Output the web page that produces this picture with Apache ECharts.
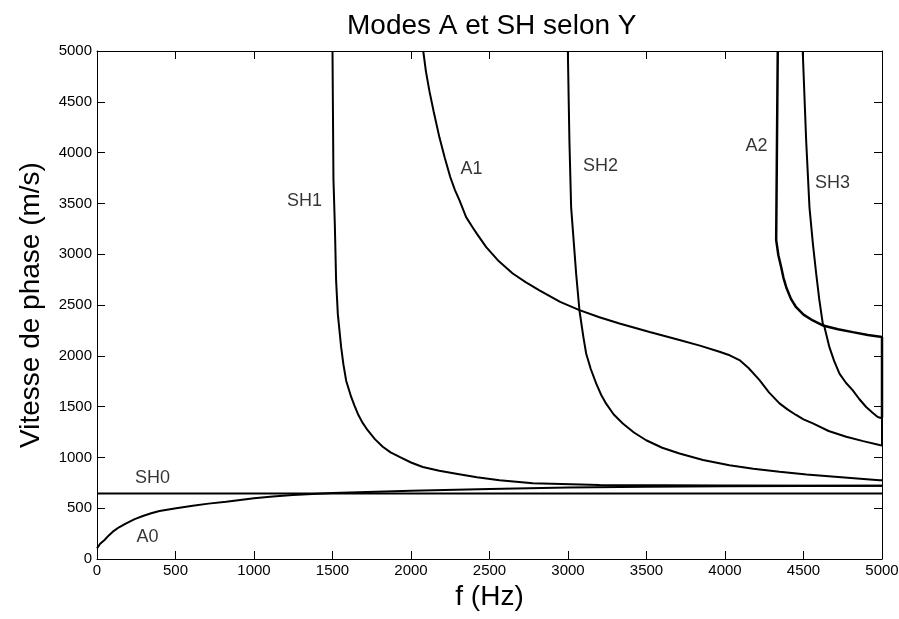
<!DOCTYPE html>
<html>
<head>
<meta charset="utf-8">
<script src="https://cdn.jsdelivr.net/npm/echarts@6/dist/echarts.min.js"></script>
<style>html,body{margin:0;padding:0;background:#fff}#c{width:899px;height:619px}</style>
</head>
<body>
<div id="c"></div>
<script>
// Dispersion curves: [frequency (Hz), phase velocity (m/s)]
const SH0 = [[0, 645], [5000, 645]];
const A0 = [[0, 105], [20, 150], [48, 187], [75, 232], [101, 269], [140, 312], [186, 351], [240, 392], [292, 423], [345, 450], [398, 472], [504, 499], [610, 524], [710, 545], [823, 564], [1000, 597], [1120, 615], [1247, 630], [1500, 650], [2000, 672], [2500, 690], [3000, 703], [3500, 710], [4000, 715], [4500, 718], [5000, 720]];
const SH1 = [[1500, 5000], [1506, 3740], [1515, 3280], [1523, 2740], [1534, 2410], [1555, 2085], [1570, 1910], [1587, 1755], [1619, 1595], [1640, 1510], [1661, 1430], [1690, 1345], [1725, 1265], [1770, 1180], [1820, 1105], [1870, 1050], [1927, 1005], [2000, 950], [2075, 905], [2180, 868], [2288, 840], [2420, 805], [2564, 775], [2776, 745], [3200, 728], [4000, 724], [5000, 722]];
const A1 = [[2078, 5000], [2095, 4800], [2118, 4600], [2145, 4400], [2181, 4150], [2215, 3950], [2250, 3760], [2280, 3630], [2309, 3530], [2351, 3365], [2390, 3270], [2420, 3200], [2479, 3070], [2560, 2930], [2648, 2810], [2730, 2725], [2818, 2645], [2950, 2530], [3073, 2450], [3200, 2380], [3328, 2318], [3520, 2235], [3710, 2155], [3840, 2100], [3965, 2040], [4030, 2005], [4092, 1958], [4150, 1880], [4220, 1760], [4280, 1640], [4347, 1532], [4400, 1470], [4450, 1420], [4500, 1375], [4560, 1335], [4660, 1260], [4772, 1203], [4880, 1160], [4984, 1122], [5000, 1118]];
const SH2 = [[2999, 5000], [3009, 4116], [3020, 3461], [3052, 2806], [3073, 2446], [3098, 2184], [3116, 2020], [3145, 1870], [3180, 1726], [3210, 1620], [3243, 1529], [3290, 1425], [3349, 1333], [3420, 1245], [3498, 1169], [3600, 1095], [3710, 1038], [3860, 975], [4028, 923], [4180, 888], [4347, 858], [4520, 832], [4700, 810], [4984, 776], [5000, 775]];
const A2 = [[4336, 5000], [4330, 3900], [4326, 3139], [4340, 2990], [4358, 2871], [4372, 2770], [4390, 2675], [4420, 2560], [4453, 2478], [4500, 2405], [4559, 2348], [4623, 2299], [4720, 2262], [4814, 2233], [4910, 2205], [5000, 2185], [5000, 1390]];
const SH3 = [[4495, 5000], [4517, 4116], [4538, 3461], [4560, 3100], [4581, 2806], [4600, 2560], [4623, 2315], [4634, 2282], [4665, 2085], [4695, 1950], [4729, 1824], [4770, 1735], [4814, 1660], [4855, 1575], [4899, 1496], [4940, 1440], [4973, 1398], [5000, 1385], [5000, 1118]];
// Curve annotations: [f, v, text]
const curveLabels = [[1322, 3526, 'SH1'], [2385, 3841, 'A1'], [3207, 3870, 'SH2'], [4201, 4067, 'A2'], [4684, 3703, 'SH3'], [353, 796, 'SH0'], [322, 216, 'A0']];
const xTicks = { min: 0, max: 5000, interval: 500 };
const yTicks = { min: 0, max: 5000, interval: 500 };

const font = 'Liberation Sans, Arial, Helvetica, sans-serif';
const chart = echarts.init(document.getElementById('c'), null, { renderer: 'canvas' });

function lineSeries(name, data, w) {
  return {
    name: name, type: 'line', data: data, showSymbol: false, symbol: 'none',
    lineStyle: { color: '#000', width: w }, xAxisIndex: 0, yAxisIndex: 0,
    animation: false, silent: true, clip: true, z: 3
  };
}
function axisCommon() {
  return {
    axisLine: { show: true, onZero: false, lineStyle: { color: '#000', width: 1 } },
    axisTick: { show: true, inside: true, length: 8, lineStyle: { color: '#000', width: 1 } },
    splitLine: { show: false }
  };
}
const plain = v => String(v);

chart.setOption({
  animation: false,
  backgroundColor: '#fff',
  title: {
    text: 'Modes A et SH selon Y', left: 342, top: 7,
    textStyle: { fontFamily: font, fontSize: 28, fontWeight: 'normal', color: '#000' }
  },
  grid: { left: 97, right: 17, top: 51, bottom: 60, outerBoundsMode: 'none', containLabel: false },
  xAxis: [
    Object.assign(axisCommon(), {
      type: 'value', position: 'bottom', min: xTicks.min, max: xTicks.max, interval: xTicks.interval,
      name: 'f (Hz)', nameLocation: 'middle', nameGap: 24,
      nameTextStyle: { fontFamily: font, fontSize: 28, color: '#000' },
      axisLabel: { fontFamily: font, fontSize: 15, color: '#000', margin: 4, formatter: plain }
    }),
    Object.assign(axisCommon(), {
      type: 'value', position: 'top', min: xTicks.min, max: xTicks.max, interval: xTicks.interval,
      axisLabel: { show: false }
    })
  ],
  yAxis: [
    Object.assign(axisCommon(), {
      type: 'value', position: 'left', min: yTicks.min, max: yTicks.max, interval: yTicks.interval,
      name: 'Vitesse de phase (m/s)', nameLocation: 'middle', nameGap: 52,
      nameTextStyle: { fontFamily: font, fontSize: 28, color: '#000' },
      axisLabel: { fontFamily: font, fontSize: 15, color: '#000', margin: 5, formatter: plain }
    }),
    Object.assign(axisCommon(), {
      type: 'value', position: 'right', min: yTicks.min, max: yTicks.max, interval: yTicks.interval,
      axisLabel: { show: false }
    })
  ],
  series: [
    lineSeries('SH0', SH0, 2),
    lineSeries('A0', A0, 2),
    lineSeries('SH1', SH1, 2),
    lineSeries('A1', A1, 2),
    lineSeries('SH2', SH2, 2),
    lineSeries('A2', A2, 2.5),
    lineSeries('SH3', SH3, 2),
    {
      type: 'scatter', data: curveLabels.map(d => ({ value: [d[0], d[1]], name: d[2] })),
      symbolSize: 0, silent: true, animation: false, z: 5,
      label: {
        show: true, position: 'inside', formatter: p => p.name,
        fontFamily: font, fontSize: 18, color: '#000'
      }
    }
  ]
});
</script>
</body>
</html>
